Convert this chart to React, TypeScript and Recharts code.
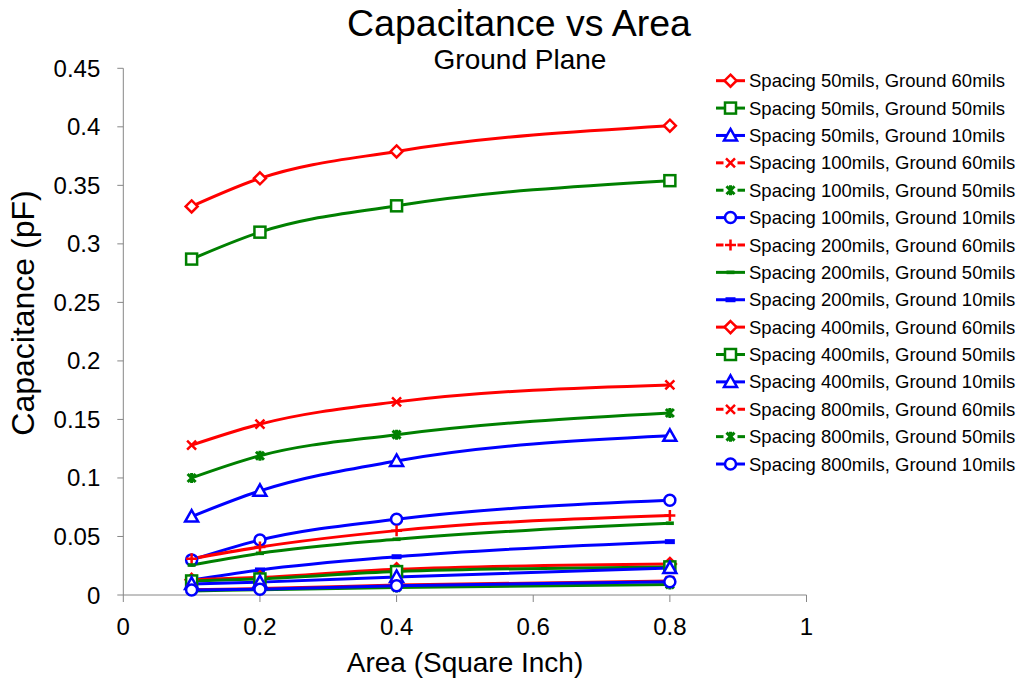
import React from 'react';
import { LineChart, Line, XAxis, YAxis, Label } from 'recharts';

const FONT = '"Liberation Sans", Arial, Helvetica, sans-serif';

// ---- data ----
const AREA = [0.1, 0.2, 0.4, 0.8];
const X_TICKS = [0, 0.2, 0.4, 0.6, 0.8, 1];
const Y_TICKS = [0, 0.05, 0.1, 0.15, 0.2, 0.25, 0.3, 0.35, 0.4, 0.45];

const S50_G60 = [0.332, 0.356, 0.379, 0.401];
const S50_G50 = [0.287, 0.31, 0.3325, 0.354];
const S50_G10 = [0.067, 0.089, 0.1145, 0.136];
const S100_G60 = [0.128, 0.146, 0.165, 0.1795];
const S100_G50 = [0.1, 0.119, 0.137, 0.1555];
const S100_G10 = [0.03, 0.047, 0.0647, 0.081];
const S200_G60 = [0.031, 0.041, 0.055, 0.068];
const S200_G50 = [0.0256, 0.0356, 0.0476, 0.0613];
const S200_G10 = [0.0128, 0.0214, 0.0327, 0.0456];
const S400_G60 = [0.013, 0.015, 0.022, 0.0265];
const S400_G50 = [0.012, 0.0137, 0.02, 0.024];
const S400_G10 = [0.0095, 0.011, 0.0154, 0.023];
const S800_G60 = [0.0045, 0.0055, 0.0085, 0.012];
const S800_G50 = [0.0035, 0.0045, 0.0065, 0.009];
const S800_G10 = [0.0043, 0.005, 0.008, 0.0114];

const SERIES_NAMES = [
  'Spacing 50mils, Ground 60mils',
  'Spacing 50mils, Ground 50mils',
  'Spacing 50mils, Ground 10mils',
  'Spacing 100mils, Ground 60mils',
  'Spacing 100mils, Ground 50mils',
  'Spacing 100mils, Ground 10mils',
  'Spacing 200mils, Ground 60mils',
  'Spacing 200mils, Ground 50mils',
  'Spacing 200mils, Ground 10mils',
  'Spacing 400mils, Ground 60mils',
  'Spacing 400mils, Ground 50mils',
  'Spacing 400mils, Ground 10mils',
  'Spacing 800mils, Ground 60mils',
  'Spacing 800mils, Ground 50mils',
  'Spacing 800mils, Ground 10mils',
];
const SERIES_VALUES = [
  S50_G60, S50_G50, S50_G10,
  S100_G60, S100_G50, S100_G10,
  S200_G60, S200_G50, S200_G10,
  S400_G60, S400_G50, S400_G10,
  S800_G60, S800_G50, S800_G10,
];
const RED = '#FF0000';
const GREEN = '#008000';
const BLUE = '#0000FF';
const SERIES_COLORS = [
  RED, GREEN, BLUE, RED, GREEN, BLUE, RED, GREEN, BLUE, RED, GREEN, BLUE, RED, GREEN, BLUE,
];
const SERIES_MARKERS = [
  'diamond', 'square', 'triangle', 'x', 'star', 'circle', 'plus', 'dashThin', 'dashThick',
  'diamond', 'square', 'triangle', 'x', 'star', 'circle',
];

const data = AREA.map((x, i) => {
  const row: Record<string, number> = { x };
  SERIES_VALUES.forEach((vals, s) => {
    row['s' + s] = vals[i];
  });
  return row;
});

function Marker({ shape, color, cx, cy }: { shape: string; color: string; cx: number; cy: number }) {
  const sw = 2.5;
  switch (shape) {
    case 'diamond':
      return (
        <path
          d={`M${cx},${cy - 6}L${cx + 6},${cy}L${cx},${cy + 6}L${cx - 6},${cy}Z`}
          fill="#fff"
          stroke={color}
          strokeWidth={sw}
        />
      );
    case 'square':
      return <rect x={cx - 5.5} y={cy - 5.5} width={11} height={11} fill="#fff" stroke={color} strokeWidth={sw} />;
    case 'triangle':
      return (
        <path
          d={`M${cx},${cy - 6.5}L${cx + 6.5},${cy + 5}L${cx - 6.5},${cy + 5}Z`}
          fill="#fff"
          stroke={color}
          strokeWidth={sw}
        />
      );
    case 'x':
      return (
        <path
          d={`M${cx - 4.5},${cy - 4.5}L${cx + 4.5},${cy + 4.5}M${cx + 4.5},${cy - 4.5}L${cx - 4.5},${cy + 4.5}`}
          stroke={color}
          strokeWidth={sw}
          fill="none"
        />
      );
    case 'star':
      return (
        <path
          d={`M${cx - 4},${cy - 4}L${cx + 4},${cy + 4}M${cx + 4},${cy - 4}L${cx - 4},${cy + 4}M${cx},${cy - 5}L${cx},${cy + 5}`}
          stroke={color}
          strokeWidth={sw + 0.5}
          fill="none"
        />
      );
    case 'circle':
      return <circle cx={cx} cy={cy} r={5.5} fill="#fff" stroke={color} strokeWidth={sw} />;
    case 'plus':
      return (
        <path
          d={`M${cx - 5.5},${cy}L${cx + 5.5},${cy}M${cx},${cy - 5.5}L${cx},${cy + 5.5}`}
          stroke={color}
          strokeWidth={sw}
          fill="none"
        />
      );
    case 'dashThin':
      return <rect x={cx - 4} y={cy - 1.8} width={8} height={3.6} fill={color} />;
    case 'dashThick':
      return <rect x={cx - 5} y={cy - 2.5} width={10} height={5} fill={color} />;
    default:
      return null;
  }
}

const LEGEND_X0 = 716;
const LEGEND_X1 = 745;
const LEGEND_Y0 = 80.7;
const LEGEND_STEP = 27.38;

function LegendBlock() {
  return (
    <svg
      width={1021}
      height={684}
      style={{ position: 'absolute', left: 0, top: 0, pointerEvents: 'none' }}
    >
      <text x={519} y={35.5} textAnchor="middle" fontFamily={FONT} fontSize={37.5} fill="#000">
        Capacitance vs Area
      </text>
      <text x={520} y={69} textAnchor="middle" fontFamily={FONT} fontSize={28} fill="#000">
        Ground Plane
      </text>
      {SERIES_NAMES.map((name, i) => {
        const cy = LEGEND_Y0 + i * LEGEND_STEP;
        const color = SERIES_COLORS[i];
        const shape = SERIES_MARKERS[i];
        const cx = (LEGEND_X0 + LEGEND_X1) / 2;
        const gap = shape === 'x' || shape === 'star' || shape === 'plus';
        return (
          <g key={name}>
            {gap ? (
              <>
                <line x1={LEGEND_X0} y1={cy} x2={cx - 7} y2={cy} stroke={color} strokeWidth={3} />
                <line x1={cx + 7} y1={cy} x2={LEGEND_X1} y2={cy} stroke={color} strokeWidth={3} />
              </>
            ) : (
              <line x1={LEGEND_X0} y1={cy} x2={LEGEND_X1} y2={cy} stroke={color} strokeWidth={3} />
            )}
            <Marker shape={shape} color={color} cx={cx} cy={cy} />
            <text x={749} y={cy + 6.6} fontFamily={FONT} fontSize={18.5} fill="#000">
              {name}
            </text>
          </g>
        );
      })}
    </svg>
  );
}

const AXIS_COLOR = '#868686';

export default function App() {
  const yAxisWidth = 110;
  const xAxisHeight = 60;
  return (
    <div style={{ position: 'absolute', left: 0, top: 0, width: 1021, height: 684, background: '#fff' }}>
      <LineChart
        width={1021}
        height={684}
        data={data}
        margin={{ top: 68.3, right: 1021 - 806.5, bottom: 684 - 595 - xAxisHeight, left: 123.3 - yAxisWidth }}
      >
        <XAxis
          dataKey="x"
          type="number"
          domain={[0, 1]}
          ticks={X_TICKS}
          interval={0}
          height={xAxisHeight}
          stroke={AXIS_COLOR}
          tickLine={{ stroke: AXIS_COLOR }}
          tickSize={7}
          tickMargin={16}
          tick={{ fill: '#000', fontSize: 24, fontFamily: FONT }}
          tickFormatter={(v: number) => String(v)}
        >
          <Label
            content={() => (
              <text x={465} y={672} textAnchor="middle" fontFamily={FONT} fontSize={28} fill="#000">
                Area (Square Inch)
              </text>
            )}
          />
        </XAxis>
        <YAxis
          type="number"
          domain={[0, 0.45]}
          ticks={Y_TICKS}
          interval={0}
          width={yAxisWidth}
          stroke={AXIS_COLOR}
          tickLine={{ stroke: AXIS_COLOR }}
          tickSize={6}
          tickMargin={17}
          tick={{ fill: '#000', fontSize: 24, fontFamily: FONT }}
          tickFormatter={(v: number) => String(v)}
        >
          <Label
            content={() => (
              <text
                x={34}
                y={313}
                transform="rotate(-90 34 313)"
                textAnchor="middle"
                fontFamily={FONT}
                fontSize={32}
                fill="#000"
              >
                Capacitance (pF)
              </text>
            )}
          />
        </YAxis>
        {SERIES_NAMES.map((name, s) => (
          <Line
            key={name}
            name={name}
            dataKey={'s' + s}
            type="monotone"
            stroke={SERIES_COLORS[s]}
            strokeWidth={3}
            isAnimationActive={false}
            activeDot={false}
            dot={(p: any) => (
              <Marker key={`${s}-${p.index}`} shape={SERIES_MARKERS[s]} color={SERIES_COLORS[s]} cx={p.cx} cy={p.cy} />
            )}
          />
        ))}
      </LineChart>
      <LegendBlock />
    </div>
  );
}
